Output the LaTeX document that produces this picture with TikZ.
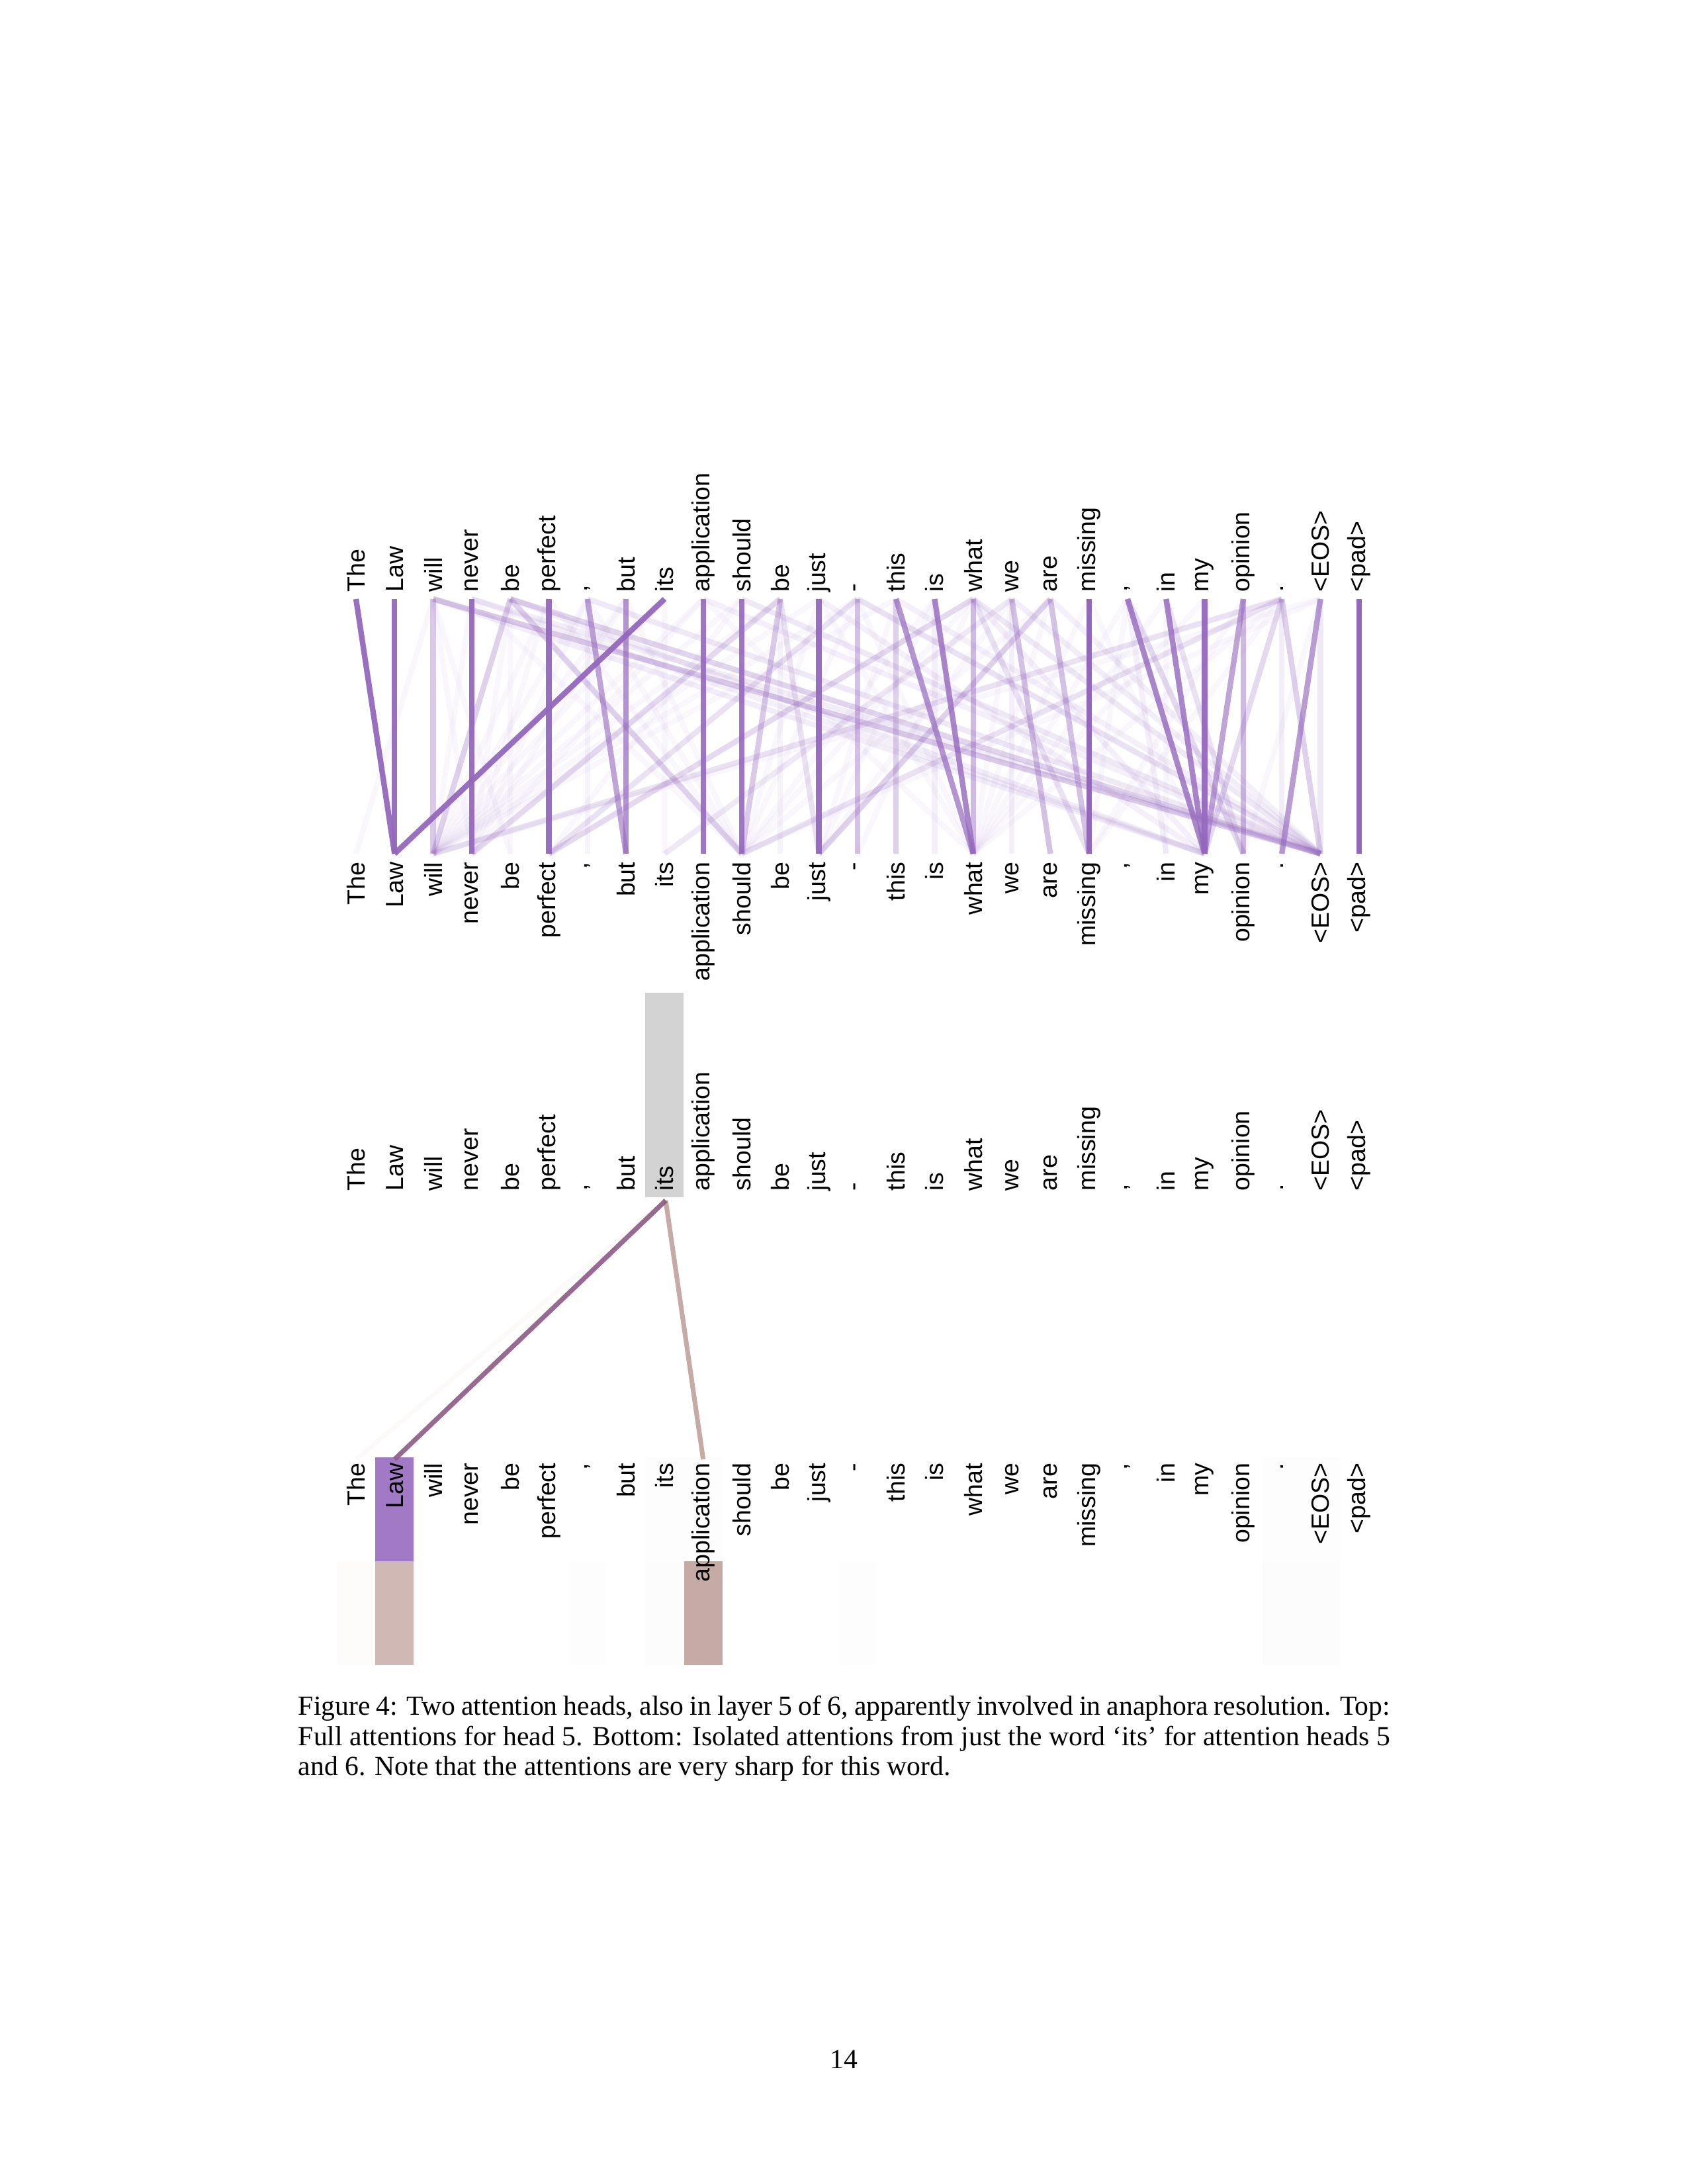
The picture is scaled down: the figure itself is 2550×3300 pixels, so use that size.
\documentclass[tikz,border=0pt]{standalone}
\usepackage{fontspec}
\setmainfont{Liberation Serif}
\newfontfamily\tokfont{Liberation Sans}
\usetikzlibrary{positioning}
\definecolor{morado}{HTML}{9467BD}
\definecolor{cafe}{HTML}{8C564B}
\definecolor{gris}{HTML}{D3D3D3}
\newcommand{\sentwords}{The,Law,will,never,be,perfect,{,},but,its,application,should,be,just,-,this,is,what,we,are,missing,{,},in,my,opinion,.,<EOS>,<pad>}

\begin{document}
\begin{tikzpicture}[x=0.24pt, y=-0.24pt, font=\tokfont\fontsize{9}{10}\selectfont,
      tok/.style={inner sep=0pt, rotate=90},
      att/.style={morado, line width=2pt},
      sel/.style={line width=1.7pt}]
    \useasboundingbox (0,0) rectangle (2550,3300);
    % top: full attentions for head 5
    \foreach \w [count=\i from 0] in \sentwords {
      \coordinate (t\i) at ({538+58.3*\i},905);
      \coordinate (b\i) at ({538+58.3*\i},1290);
      \node[tok, anchor=west] (wt\i) at ({538+58.3*\i},895) {\w};
      \node[tok, anchor=east] (wb\i) at ({538+58.3*\i},1302) {\w};
    }
    \foreach \a/\b in {2/3,2/4,2/0,3/2,4/4,4/3,5/2,5/3,6/2,6/3,7/2,7/3,7/10,8/8,8/2,9/2,9/3,
        10/2,10/5,11/2,12/2,12/10,13/2,13/10,13/16,14/12,14/2,15/12,15/10,16/13,16/10,
        17/16,17/12,18/16,18/10,19/16,19/22,20/19,20/16,21/21,21/16,22/16,23/19,24/16,
        24/19,25/2,25/10,25/23,5/10,6/10,3/10,12/16,9/16}
      \draw[att, draw opacity=0.05] (t\a) -- (b\b);
    \foreach \a/\b/\o in {3/25/0.12,6/25/0.15,10/25/0.15,9/25/0.1,16/25/0.15,17/25/0.12,
        18/25/0.1,14/25/0.1,3/22/0.1,12/22/0.1,16/22/0.1,
        2/2/0.35,2/25/0.35,4/2/0.3,4/10/0.3,4/25/0.28,4/22/0.12,2/22/0.12,6/6/0.08,
        11/10/0.35,11/3/0.25,11/12/0.2,11/11/0.08,13/13/0.4,13/25/0.2,13/5/0.2,
        14/14/0.3,15/15/0.1,16/16/0.45,16/5/0.25,16/19/0.2,17/18/0.4,17/17/0.1,17/8/0.15,
        18/19/0.4,18/12/0.3,20/23/0.25,20/21/0.1,21/23/0.2,23/23/0.45,24/2/0.2,24/10/0.2,
        24/22/0.25,24/25/0.3,24/24/0.12,25/25/0.15,
        6/7/0.6,7/7/0.7,14/16/0.7,15/16/0.8,20/22/0.8,21/22/0.8,23/22/0.6,25/24/0.65,
        0/1/0.95,1/1/0.95,3/3/0.95,5/5/0.95,8/1/0.95,9/9/0.9,10/10/0.9,12/12/0.95,
        19/19/1,22/22/0.95,26/26/1}
      \draw[att, draw opacity=\o] (t\a) -- (b\b);

    % bottom: attentions from 'its', heads 5 and 6
    \fill[gris] (975,1500) rectangle (1033,1809);
    \foreach \c/\r/\o/\col in {1/0/0.88/morado,8/0/0.015/morado,9/0/0.015/morado,
        24/0/0.01/morado,25/0/0.01/morado,0/1/0.02/cafe,1/1/0.41/cafe,6/1/0.012/cafe,
        8/1/0.015/cafe,9/1/0.5/cafe,13/1/0.01/cafe,24/1/0.015/cafe,25/1/0.015/cafe}
      \fill[\col, fill opacity=\o] ({538+58.3*\c-29.15},{2202+157*\r}) rectangle +(58.3,157);
    \foreach \w [count=\i from 0] in \sentwords {
      \node[tok, anchor=west] (ia\i) at ({538+58.3*\i},1800) {\w};
      \node[tok, anchor=east] (ib\i) at ({538+58.3*\i},2210) {\w};
      \coordinate (q\i) at ({538+58.3*\i},2205);
    }
    \coordinate (src) at (1006,1814);
    \draw[sel, cafe, draw opacity=0.03] (src) -- (q0);
    \draw[sel, morado, draw opacity=0.88] (src) -- (q1);
    \draw[sel, cafe, draw opacity=0.41] (src) -- (q1);
    \draw[sel, cafe, draw opacity=0.5] (src) -- (q9);

    \node[anchor=north west, inner sep=0pt, text width=396pt, align=justify,
          font=\rmfamily\fontsize{10}{11}\selectfont] (cap) at (450,2561)
      {Figure 4: Two attention heads, also in layer 5 of 6, apparently involved in anaphora
       resolution. Top: Full attentions for head 5. Bottom: Isolated attentions from just
       the word `its' for attention heads 5 and 6. Note that the attentions are very sharp
       for this word.};
    \node[anchor=base, inner sep=0pt, font=\rmfamily\fontsize{10}{12}\selectfont] (pnum)
      at (1275,3125) {14};
  \end{tikzpicture}
\end{document}
